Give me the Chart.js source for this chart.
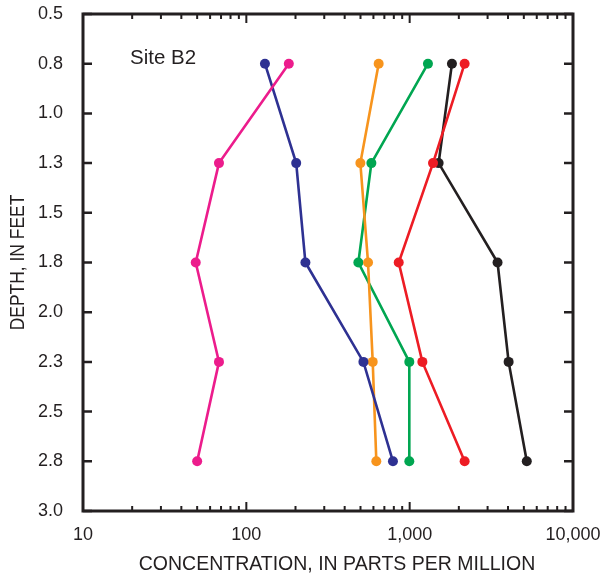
<!DOCTYPE html>
<html>
<head>
<meta charset="utf-8">
<script src="https://cdn.jsdelivr.net/npm/chart.js@4/dist/chart.umd.min.js"></script>
<style>
  html, body { margin: 0; padding: 0; background: #fff; }
  #wrap { width: 610px; height: 579px; }
</style>
</head>
<body>
<div id="wrap"><canvas id="grafica"></canvas></div>
<script>
//* Depth of each sample, in feet
const depths = [0.75, 1.25, 1.75, 2.25, 2.75];
//* Labels of the depth axis (0.25 steps, shown rounded)
const depthLabels = ["0.5", "0.8", "1.0", "1.3", "1.5", "1.8", "2.0", "2.3", "2.5", "2.8", "3.0"];
//* Labelled ticks of the concentration axis
const concTicks = [10, 100, 1000, 10000];

//* Concentrations, ppm
const pinkValues = [182, 68, 49, 68, 50];
const blueValues = [130, 202, 230, 521, 790];
const orangeValues = [646, 499, 556, 594, 625];
const greenValues = [1294, 583, 485, 995, 995];
const redValues = [2170, 1390, 857, 1196, 2170];
const blackValues = [1815, 1504, 3452, 4035, 5212];

const ink = "#231f20";

//* Arma un dataset a partir de los valores y el color
function makeSeries(label, values, color) {
	return {
		label: label,
		data: values.map((v, i) => ({ x: v, y: depths[i] })),
		showLine: true,
		borderColor: color,
		backgroundColor: color,
		borderWidth: 2.6,
		pointRadius: 5,
		pointBorderWidth: 0,
	};
}

//* Caja, marcas hacia adentro y textos
const boxPlugin = {
	id: "boxPlugin",
	afterDraw(chart) {
		const ctx = chart.ctx;
		const a = chart.chartArea;
		const xs = chart.scales.x;
		const ys = chart.scales.y;
		ctx.save();
		ctx.strokeStyle = ink;
		ctx.lineCap = "butt";
		//* ticks en x (mayores y menores)
		ctx.lineWidth = 2;
		for (let d = 0; d < concTicks.length; d++) {
			const dec = concTicks[d];
			for (let m = 1; m <= 9; m++) {
				const v = dec * m;
				if (v > 10000) break;
				const px = xs.getPixelForValue(v);
				const len = m == 1 ? 9 : 5;
				ctx.beginPath();
				ctx.moveTo(px, a.top);
				ctx.lineTo(px, a.top + len);
				ctx.moveTo(px, a.bottom);
				ctx.lineTo(px, a.bottom - len);
				ctx.stroke();
			}
		}
		//* ticks en y
		ctx.lineWidth = 2.5;
		ys.ticks.forEach((t) => {
			const py = ys.getPixelForValue(t.value);
			ctx.beginPath();
			ctx.moveTo(a.left, py);
			ctx.lineTo(a.left + 9, py);
			ctx.moveTo(a.right, py);
			ctx.lineTo(a.right - 9, py);
			ctx.stroke();
		});
		//* caja
		ctx.lineWidth = 3;
		ctx.strokeRect(a.left, a.top, a.right - a.left, a.bottom - a.top);
		//* textos
		ctx.fillStyle = ink;
		ctx.textAlign = "left";
		ctx.textBaseline = "middle";
		ctx.font = "20.5px 'Liberation Sans', Arial, sans-serif";
		ctx.fillText("Site B2", a.left + 47, 58);
		ctx.font = "19.5px 'Liberation Sans', Arial, sans-serif";
		ctx.textAlign = "center";
		ctx.fillText("CONCENTRATION, IN PARTS PER MILLION", 337, 565);
		ctx.translate(18, (a.top + a.bottom) / 2);
		ctx.rotate(-Math.PI / 2);
		ctx.scale(0.83, 1);
		ctx.font = "21px 'Liberation Sans', Arial, sans-serif";
		ctx.fillText("DEPTH, IN FEET", 0, 0);
		ctx.restore();
	},
};

const ctx = document.getElementById("grafica");
const grafica = new Chart(ctx, {
	type: "scatter",
	data: {
		datasets: [
			makeSeries("pink", pinkValues, "#ec1c8c"),
			makeSeries("blue", blueValues, "#2e3192"),
			makeSeries("orange", orangeValues, "#f7941d"),
			makeSeries("green", greenValues, "#00a651"),
			makeSeries("red", redValues, "#ed1c24"),
			makeSeries("black", blackValues, ink),
		],
	},
	options: {
		responsive: true,
		maintainAspectRatio: false,
		animation: false,
		layout: { padding: { left: 0, top: 14, right: 37, bottom: 0 } },
		plugins: {
			legend: { display: false },
			tooltip: { enabled: false },
		},
		scales: {
			x: {
				type: "logarithmic",
				min: 10,
				max: 10000,
				border: { display: false },
				grid: { display: false, drawTicks: false },
				afterBuildTicks: (scale) => {
					scale.ticks = concTicks.map((v) => ({ value: v }));
				},
				afterFit: (scale) => {
					scale.height = 68;
					scale.paddingLeft = 0;
					scale.paddingRight = 0;
				},
				ticks: {
					color: ink,
					padding: 13,
					maxRotation: 0,
					font: { size: 18, family: "'Liberation Sans', Arial, sans-serif" },
					callback: (v) => v.toLocaleString("en-US"),
				},
			},
			y: {
				type: "linear",
				reverse: true,
				min: 0.5,
				max: 3.0,
				border: { display: false },
				grid: { display: false, drawTicks: false },
				afterFit: (scale) => {
					scale.width = 83;
					scale.paddingTop = 0;
					scale.paddingBottom = 0;
				},
				ticks: {
					stepSize: 0.25,
					color: ink,
					padding: 20,
					font: { size: 18, family: "'Liberation Sans', Arial, sans-serif" },
					callback: (v) => depthLabels[Math.round((v - 0.5) / 0.25)],
				},
			},
		},
	},
	plugins: [boxPlugin],
});
</script>
</body>
</html>
